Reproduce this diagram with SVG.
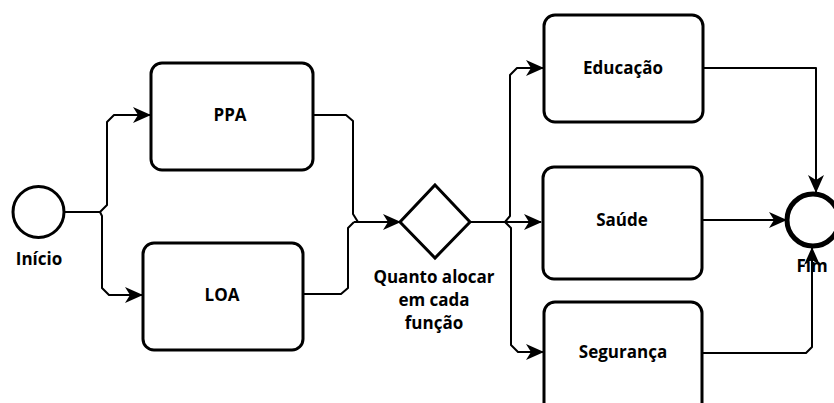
<svg xmlns="http://www.w3.org/2000/svg" width="834" height="403" viewBox="0 0 834 403">
  <style>
    .task { fill: #fff; stroke: #000; stroke-width: 3; }
    .event { fill: #fff; stroke: #000; }
    .flow { fill: none; stroke: #000; stroke-width: 2; stroke-linejoin: round; }
    .lbl { font-family: "Open Sans", "DejaVu Sans", sans-serif; font-weight: 700; font-size: 17px; fill: #000; text-anchor: middle; }
  </style>
  <defs>
    <marker id="arrow" viewBox="0 0 18 16" refX="17" refY="8" markerWidth="18" markerHeight="16" markerUnits="userSpaceOnUse" orient="auto">
      <path d="M0,0 L18,8 L0,16 L5,8 Z" fill="#000"/>
    </marker>
  </defs>

  <!-- sequence flows -->
  <g id="connectors">
    <path class="flow" d="M64,212 H100 L107,205 V122 L114,115 H150" marker-end="url(#arrow)"/>
    <path class="flow" d="M100,212 L102,216 V288 L109,295 H142" marker-end="url(#arrow)"/>
    <path class="flow" d="M313,115 H346 L353,121 V214 L358,222"/>
    <path class="flow" d="M303,294 H341 L348,288 V228 L354,222"/>
    <path class="flow" d="M354,222 H400" marker-end="url(#arrow)"/>
    <path class="flow" d="M470,222 H541" marker-end="url(#arrow)"/>
    <path class="flow" d="M505,222 L510,216 V75 L517,68 H543" marker-end="url(#arrow)"/>
    <path class="flow" d="M505,222 L511,228 V345 L518,352 H543" marker-end="url(#arrow)"/>
    <path class="flow" d="M703,68 H816 V192" marker-end="url(#arrow)"/>
    <path class="flow" d="M702,220 H786" marker-end="url(#arrow)"/>
    <path class="flow" d="M702,353 H806 L812,347 V248" marker-end="url(#arrow)"/>
  </g>

  <g id="inicio">
    <circle class="event" cx="38.5" cy="212" r="25.5" stroke-width="3"/>
    <text class="lbl" x="39" y="265">Início</text>
  </g>

  <g id="ppa">
    <rect class="task" x="151" y="63" width="162" height="107" rx="11"/>
    <text class="lbl" x="230" y="121">PPA</text>
  </g>

  <g id="loa">
    <rect class="task" x="143" y="243" width="160" height="107" rx="11"/>
    <text class="lbl" x="222" y="301">LOA</text>
  </g>

  <g id="gateway">
    <polygon points="435,185 470,222 435,258 400,222" fill="#fff" stroke="#000" stroke-width="3"/>
    <text class="lbl" x="434" y="283">Quanto alocar</text>
    <text class="lbl" x="434" y="306">em cada</text>
    <text class="lbl" x="434" y="329">função</text>
  </g>

  <g id="educacao">
    <rect class="task" x="544" y="15" width="159" height="107" rx="11"/>
    <text class="lbl" x="623" y="74">Educação</text>
  </g>

  <g id="saude">
    <rect class="task" x="543" y="167" width="159" height="112" rx="11"/>
    <text class="lbl" x="622" y="226">Saúde</text>
  </g>

  <g id="seguranca">
    <rect class="task" x="544" y="302" width="158" height="112" rx="11"/>
    <text class="lbl" x="623" y="358">Segurança</text>
  </g>

  <g id="fim">
    <circle class="event" cx="813" cy="220" r="26" stroke-width="5"/>
    <text class="lbl" x="812" y="272">Fim</text>
  </g>
</svg>
